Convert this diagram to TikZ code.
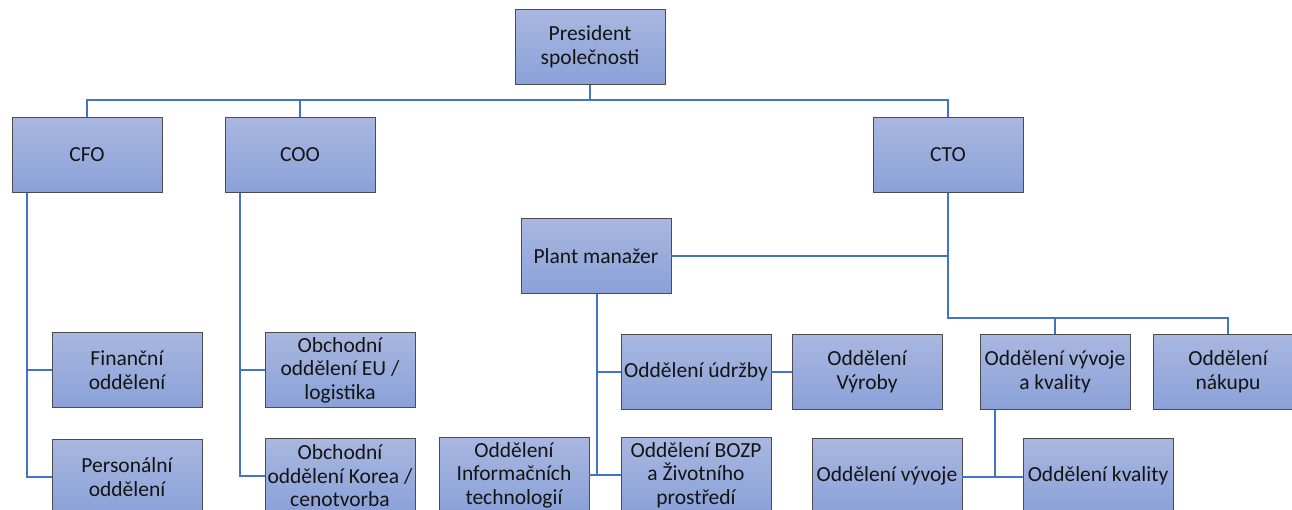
\documentclass[tikz,border=0pt]{standalone}
\usepackage{fontspec}
\setmainfont{Carlito}
\begin{document}
\begin{tikzpicture}[x=1pt,y=-1pt,
  orgbox/.style={draw=black!70, line width=0.8pt, top color=boxtop, bottom color=boxbot,
    minimum width=150pt, minimum height=75pt, inner sep=1pt, align=center,
    font=\fontsize{21.5}{23.5}\selectfont, text=black!92},
  link/.style={draw=linkblue, line width=2pt}]
\definecolor{boxtop}{HTML}{A9B7E0}
\definecolor{boxbot}{HTML}{8AA1D8}
\definecolor{linkblue}{HTML}{4472C4}
\useasboundingbox (0,0) rectangle (1292,509);
\clip (0,0) rectangle (1292,509);
\fill[white] (0,0) rectangle (1292,509);

\node[orgbox] (pres) at (590,47) {President\\společnosti};
\node[orgbox] (cfo) at (87,155) {CFO};
\node[orgbox] (coo) at (300,155) {COO};
\node[orgbox] (cto) at (948,155) {CTO};
\node[orgbox] (plant) at (596,256) {Plant manažer};
\node[orgbox] (fin) at (127,370) {Finanční\\oddělení};
\node[orgbox] (pers) at (127,477) {Personální\\oddělení};
\node[orgbox] (eu) at (340,370) {Obchodní\\oddělení EU /\\logistika};
\node[orgbox] (korea) at (340,476) {Obchodní\\oddělení Korea /\\cenotvorba};
\node[orgbox] (it) at (514,475) {Oddělení\\Informačních\\technologií};
\node[orgbox] (bozp) at (696,475) {Oddělení BOZP\\a Životního\\prostředí};
\node[orgbox] (udrz) at (696,372) {Oddělení údržby};
\node[orgbox] (vyroby) at (867,372) {Oddělení\\Výroby};
\node[orgbox] (vak) at (1055,372) {Oddělení vývoje\\a kvality};
\node[orgbox] (nakup) at (1228,372) {Oddělení\\nákupu};
\node[orgbox] (vyvoj) at (887,476) {Oddělení vývoje};
\node[orgbox] (kval) at (1098,476) {Oddělení kvality};

\coordinate (bus) at (0,100);
\coordinate (ctobus) at (0,318);
\coordinate (cfoL) at ([xshift=15pt]cfo.south west);
\coordinate (cooL) at ([xshift=15pt]coo.south west);
\coordinate (vakL) at ([xshift=-60pt]vak.south);
\coordinate (plantD) at ([xshift=1pt]plant.south);

% top level
\draw[link] (cfo.north) -- (cfo.north |- bus) -- (cto.north |- bus) -- (cto.north);
\draw[link] (pres.south) -- (pres.south |- bus);
\draw[link] (coo.north) -- (coo.north |- bus);
% CFO
\draw[link] (cfoL) |- (pers.west);
\draw[link] (cfoL |- fin.west) -- (fin.west);
% COO
\draw[link] (cooL) |- (korea.west);
\draw[link] (cooL |- eu.west) -- (eu.west);
% CTO
\draw[link] (cto.south) -- (cto.south |- ctobus) -| (nakup.north);
\draw[link] (vak.north |- ctobus) -- (vak.north);
\draw[link] (plant.east) -- (cto.south |- plant.east);
% plant
\draw[link] (plantD) -- (plantD |- bozp.west);
\draw[link] (plantD |- udrz.west) -- (udrz.west);
\draw[link] (it.east) -- (bozp.west);
\draw[link] (udrz.east) -- (vyroby.west);
% vak
\draw[link] (vakL) -- (vakL |- vyvoj.east);
\draw[link] ([yshift=-1pt]vyvoj.east) -- ([yshift=-1pt]kval.west);
\end{tikzpicture}
\end{document}
